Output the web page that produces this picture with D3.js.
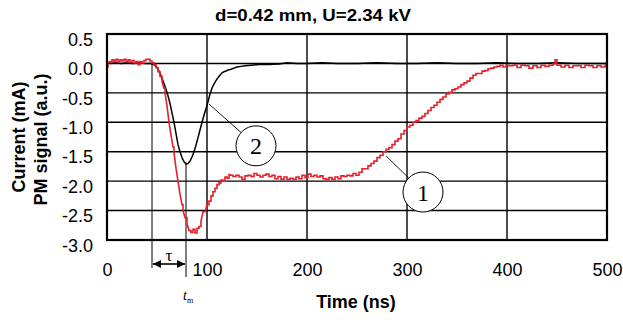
<!DOCTYPE html>
<html>
<head>
<meta charset="utf-8">
<script src="https://cdn.jsdelivr.net/npm/d3@7/dist/d3.min.js"></script>
<style>
  html, body { margin: 0; padding: 0; background: #fff; }
  svg { display: block; }
  text, tspan { font-family: "Liberation Sans", Arial, sans-serif; fill: #000; }
  .serif, .serif tspan { font-family: "Liberation Serif", "Times New Roman", serif; fill: #000; }
</style>
</head>
<body>
<svg id="chart" width="623" height="322"></svg>
<script>
// Time axis (ns) and signal axis ticks
const timeTicks = [0, 100, 200, 300, 400, 500];
const valueTicks = [0.5, 0.0, -0.5, -1.0, -1.5, -2.0, -2.5, -3.0];

// Curve 1: discharge current (mA), [time ns, value]
const currentSeries = [
  [0,-0.06],[1,0.02],[3,0.03],[5,0.06],[7,0.03],[9,0.07],[11,0.03],[13,0.06],[15,0.04],
  [17,0.07],[19,0.03],[21,0.06],[23,0.02],[25,0.05],[27,0.01],[29,0.03],[31,-0.02],[33,0.03],
  [35,0.01],[37,0.05],[39,0.07],[41,0.07],[43,0.04],[45,0.01],[47,-0.02],[49,-0.07],[51,-0.14],
  [53,-0.22],[55,-0.31],[57,-0.42],[58,-0.5],[60,-0.72],[62,-1.0],[64,-1.22],[66,-1.42],[67,-1.52],
  [69,-1.78],[71,-2.0],[73,-2.22],[75,-2.4],[76,-2.5],[78,-2.62],[80,-2.72],[82,-2.84],[84,-2.87],
  [86,-2.82],[88,-2.88],[90,-2.8],[92,-2.77],[94,-2.68],[96,-2.52],[98,-2.53],[100,-2.4],[102,-2.34],
  [104,-2.25],[106,-2.18],[108,-2.12],[110,-2.06],[112,-2.03],[114,-1.98],[116,-2.0],[118,-1.93],
  [120,-1.95],[122,-1.89],[123,-1.9],[126,-1.92],[129,-1.9],[132,-1.93],[135,-1.97],[138,-1.91],
  [141,-1.9],[144,-1.92],[147,-1.87],[150,-1.9],[153,-1.93],[156,-1.9],[159,-1.88],[162,-1.92],
  [165,-1.9],[168,-1.96],[171,-1.92],[174,-1.97],[177,-1.93],[180,-1.97],[183,-1.95],[186,-1.97],
  [189,-1.93],[192,-1.96],[195,-1.9],[198,-1.94],[201,-1.88],[204,-1.92],[207,-1.9],[210,-1.93],
  [213,-1.91],[216,-1.96],[219,-1.97],[222,-1.94],[225,-1.97],[228,-1.93],[231,-1.96],[234,-1.91],
  [237,-1.92],[240,-1.9],[243,-1.91],[246,-1.87],[249,-1.9],[252,-1.85],[255,-1.79],[258,-1.79],
  [261,-1.74],[264,-1.7],[267,-1.66],[270,-1.6],[273,-1.56],[276,-1.5],[279,-1.46],[282,-1.43],
  [285,-1.38],[288,-1.32],[291,-1.28],[294,-1.2],[297,-1.14],[300,-1.08],[303,-1.05],[306,-1.0],
  [309,-0.97],[312,-0.93],[315,-0.9],[318,-0.85],[321,-0.8],[324,-0.75],[327,-0.71],[330,-0.66],
  [333,-0.61],[336,-0.57],[339,-0.52],[342,-0.49],[345,-0.45],[348,-0.43],[351,-0.4],[354,-0.36],
  [357,-0.33],[360,-0.3],[363,-0.25],[366,-0.2],[369,-0.17],[372,-0.17],[375,-0.13],[378,-0.12],
  [381,-0.09],[384,-0.08],[387,-0.06],[390,-0.05],[393,-0.03],[396,-0.06],[399,-0.03],[402,-0.04],
  [406,-0.03],[410,-0.07],[414,-0.03],[418,-0.04],[422,-0.08],[426,-0.04],[430,-0.07],[434,-0.03],
  [438,-0.05],[442,-0.03],[446,-0.01],[448,0.06],[450,-0.03],[454,-0.06],[458,-0.03],[462,-0.07],
  [466,-0.04],[470,-0.04],[474,-0.07],[478,-0.03],[482,-0.04],[486,-0.07],[490,-0.04],[494,-0.06],
  [498,-0.03],[500,-0.04]
];

// Curve 2: photomultiplier signal (a.u.), [time ns, value]
const pmSeries = [
  [3,0.0],[8,0.01],[14,0.0],[20,0.01],[26,0.0],[32,0.01],[38,0.0],[44,0.0],[47,-0.02],[49,-0.05],
  [51,-0.1],[53,-0.17],[55,-0.25],[57,-0.34],[59,-0.44],[61,-0.55],[63,-0.68],[65,-0.84],[67,-1.0],
  [69,-1.19],[71,-1.38],[73,-1.5],[75,-1.6],[77,-1.67],[79,-1.71],[81,-1.7],[83,-1.66],[85,-1.59],
  [87,-1.5],[89,-1.39],[91,-1.26],[93,-1.13],[95,-1.0],[97,-0.88],[99,-0.77],[101,-0.65],[103,-0.52],
  [105,-0.42],[107,-0.35],[109,-0.29],[111,-0.24],[113,-0.2],[115,-0.16],[117,-0.14],[119,-0.13],
  [121,-0.11],[124,-0.1],[127,-0.08],[130,-0.06],[134,-0.05],[138,-0.04],[144,-0.03],[152,-0.02],
  [162,-0.02],[172,-0.01],[180,0.01],[190,0.0],[200,0.0],[215,0.01],[230,0.0],[250,0.0],[270,0.01],
  [290,0.0],[310,0.0],[330,0.01],[350,0.0],[370,0.0],[390,0.01],[410,0.0],[430,0.0],[450,0.01],
  [470,0.0],[490,0.0],[500,0.0]
];

// Delay between onset and PM maximum (ns)
const tauStart = 45;
const tPeak = 79;

const svg = d3.select("#chart");
const plot = { left: 107, right: 607, top: 34, bottom: 240 };

const x = d3.scaleLinear().domain([0, 500]).range([plot.left, plot.right]);
const y = d3.scaleLinear().domain([-3.0, 0.5]).range([plot.bottom, plot.top]);

// grid
const grid = svg.append("g");
grid.selectAll("line.h").data(valueTicks).join("line")
  .attr("x1", plot.left).attr("x2", plot.right)
  .attr("y1", d => y(d)).attr("y2", d => y(d))
  .attr("stroke", "#000").attr("stroke-width", 1.4);
grid.selectAll("line.v").data(timeTicks).join("line")
  .attr("y1", plot.top).attr("y2", plot.bottom)
  .attr("x1", d => x(d)).attr("x2", d => x(d))
  .attr("stroke", "#000").attr("stroke-width", 1.4);

// tick labels through d3 axes (domain and tick marks hidden)
const yAxis = svg.append("g")
  .attr("transform", `translate(${plot.left},0)`)
  .call(d3.axisLeft(y).tickValues(valueTicks).tickFormat(d3.format(".1f")).tickSize(0).tickPadding(14));
yAxis.select(".domain").remove();
yAxis.selectAll("text")
  .attr("font-size", 18).attr("font-family", "Liberation Sans, Arial, sans-serif")
  .attr("dy", "0.62em").attr("fill", "#000")
  .text(d => d3.format(".1f")(d).replace("−", "-"));

const xAxis = svg.append("g")
  .attr("transform", `translate(0,${plot.bottom})`)
  .call(d3.axisBottom(x).tickValues(timeTicks).tickFormat(d3.format("d")).tickSize(0).tickPadding(23));
xAxis.select(".domain").remove();
xAxis.selectAll("text")
  .attr("font-size", 18).attr("font-family", "Liberation Sans, Arial, sans-serif").attr("fill", "#000");

// tau and t_m markers
const ann = svg.append("g").attr("stroke", "#000").attr("stroke-width", 1);
ann.append("line")
  .attr("x1", x(tauStart)).attr("x2", x(tauStart))
  .attr("y1", y(0)).attr("y2", plot.bottom + 28);
ann.append("line")
  .attr("x1", x(tPeak)).attr("x2", x(tPeak))
  .attr("y1", y(-1.68)).attr("y2", plot.bottom + 37);

const defs = svg.append("defs");
defs.append("marker").attr("id", "ah").attr("viewBox", "0 0 10 10")
  .attr("refX", 10).attr("refY", 5).attr("markerWidth", 9).attr("markerHeight", 8)
  .attr("markerUnits", "userSpaceOnUse").attr("orient", "auto-start-reverse")
  .append("path").attr("d", "M0,0 L10,5 L0,10 Z").attr("fill", "#000");
ann.append("line")
  .attr("x1", x(tauStart) + 1).attr("x2", x(tPeak) - 1)
  .attr("y1", plot.bottom + 24).attr("y2", plot.bottom + 24)
  .attr("stroke-width", 1.6)
  .attr("marker-start", "url(#ah)").attr("marker-end", "url(#ah)");

svg.append("text").attr("class", "serif")
  .attr("x", (x(tauStart) + x(tPeak)) / 2).attr("y", plot.bottom + 21)
  .attr("text-anchor", "middle").attr("font-size", 17).text("τ");
const tm = svg.append("text").attr("class", "serif")
  .attr("x", x(tPeak) - 3).attr("y", plot.bottom + 60).attr("font-size", 14);
tm.append("tspan").attr("font-style", "italic").attr("fill", "#000").text("t");
tm.append("tspan").attr("font-size", 8).attr("dy", 3).attr("fill", "#000").text("m");

// Sampled trace: flat steps for small level changes, straight segments on steep edges
function traceCurve(context) {
  let prev = null;
  return {
    areaStart() {}, areaEnd() {},
    lineStart() { prev = null; },
    lineEnd() {},
    point(px, py) {
      if (!prev) { context.moveTo(px, py); }
      else if (Math.abs(py - prev[1]) > 6) { context.lineTo(px, py); }
      else { context.lineTo(px, prev[1]); context.lineTo(px, py); }
      prev = [px, py];
    }
  };
}

// curves
const pmLine = d3.line().x(d => x(d[0])).y(d => y(d[1]));
svg.append("path").datum(pmSeries)
  .attr("fill", "none").attr("stroke", "#000").attr("stroke-width", 1.5)
  .attr("stroke-linejoin", "round")
  .attr("d", pmLine);
const currentLine = d3.line().x(d => x(d[0])).y(d => y(d[1])).curve(traceCurve);
svg.append("path").datum(currentSeries)
  .attr("fill", "none").attr("stroke", "#e81e2a").attr("stroke-width", 1.6)
  .attr("d", currentLine);

// frame
svg.append("rect")
  .attr("x", plot.left).attr("y", plot.top)
  .attr("width", plot.right - plot.left).attr("height", plot.bottom - plot.top)
  .attr("fill", "none").attr("stroke", "#000").attr("stroke-width", 2.2);

// numbered callouts
const callouts = [
  { label: "2", from: [102, -0.69], center: [149, -1.40] },
  { label: "1", from: [279, -1.57], center: [316, -2.185] }
];
const r = 20;
callouts.forEach(c => {
  const fx = x(c.from[0]), fy = y(c.from[1]);
  const cx = x(c.center[0]), cy = y(c.center[1]);
  const ang = Math.atan2(fy - cy, fx - cx);
  svg.append("line")
    .attr("x1", fx).attr("y1", fy)
    .attr("x2", cx + r * Math.cos(ang)).attr("y2", cy + r * Math.sin(ang))
    .attr("stroke", "#000").attr("stroke-width", 0.9);
  svg.append("circle").attr("cx", cx).attr("cy", cy).attr("r", r)
    .attr("fill", "#fff").attr("stroke", "#000").attr("stroke-width", 1);
  svg.append("text").attr("class", "serif")
    .attr("x", cx).attr("y", cy + 8.5).attr("text-anchor", "middle")
    .attr("font-size", 24).text(c.label);
});

// titles
svg.append("text")
  .attr("x", 313).attr("y", 20.5).attr("text-anchor", "middle")
  .attr("font-size", 16).attr("font-weight", "bold")
  .attr("textLength", 196).attr("lengthAdjust", "spacingAndGlyphs")
  .text("d=0.42 mm, U=2.34 kV");
svg.append("text")
  .attr("x", 356).attr("y", 308).attr("text-anchor", "middle")
  .attr("font-size", 18).attr("font-weight", "bold")
  .text("Time (ns)");
svg.append("text")
  .attr("transform", "translate(25,137) rotate(-90)")
  .attr("text-anchor", "middle").attr("font-size", 18).attr("font-weight", "bold")
  .text("Current (mA)");
svg.append("text")
  .attr("transform", "translate(46.5,139.5) rotate(-90)")
  .attr("text-anchor", "middle").attr("font-size", 18).attr("font-weight", "bold")
  .text("PM signal (a.u.)");
</script>
</body>
</html>
